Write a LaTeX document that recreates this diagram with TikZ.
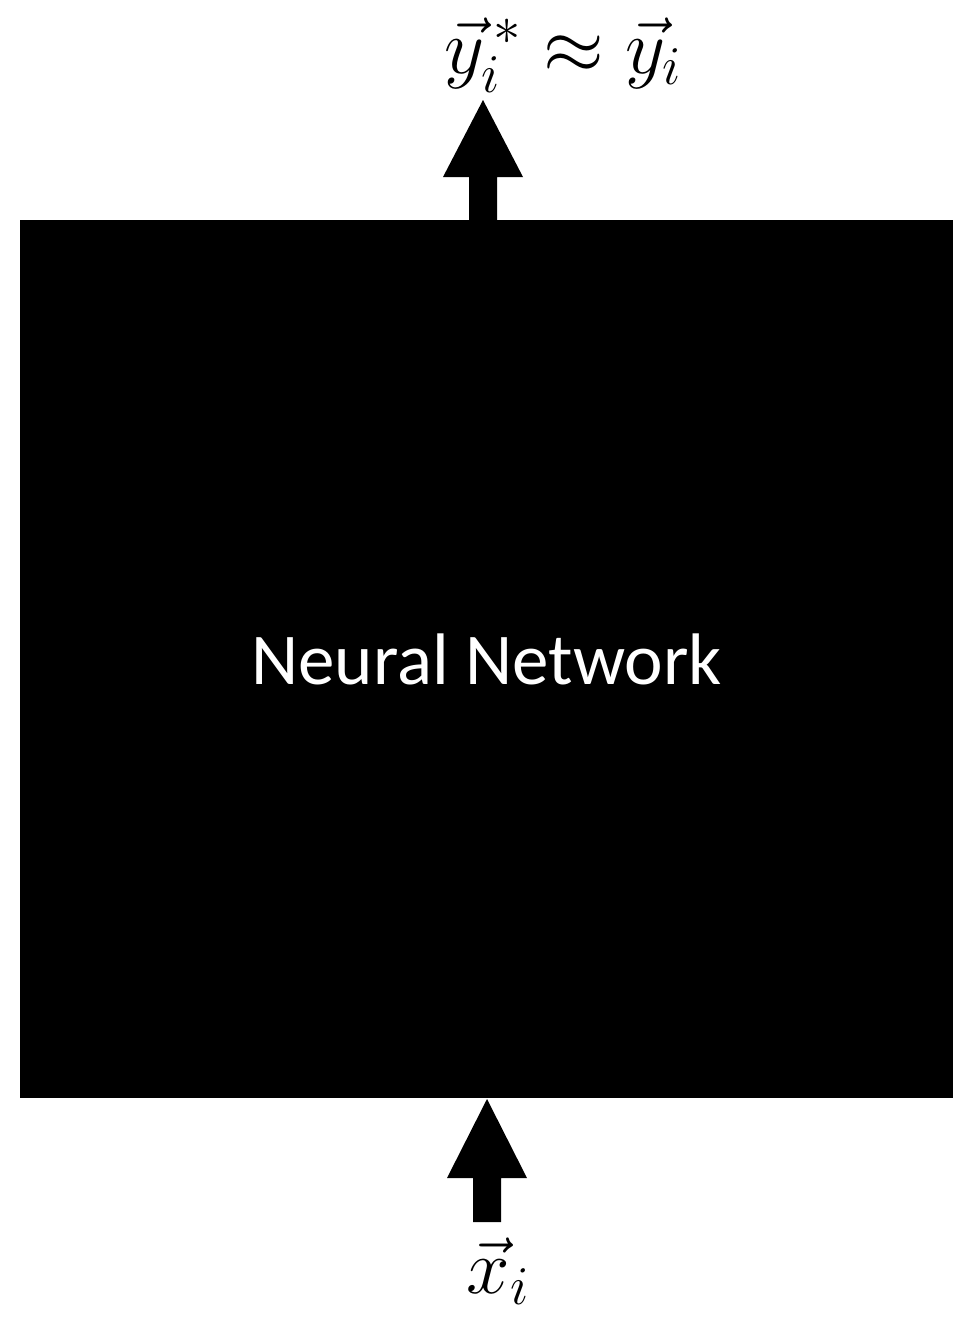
\documentclass[tikz,border=0pt]{standalone}
\usepackage{fix-cm}
\usepackage{amsmath}
\usepackage{fontspec}
\setmainfont{Carlito}
\begin{document}
\begin{tikzpicture}[x=1pt,y=-1pt,
  box/.style={fill=black,draw=none,minimum width=933pt,minimum height=878pt,inner sep=0pt,
    text=white,font=\fontsize{73}{80}\selectfont},
  blockarrow/.style={fill=black,draw=none},
  mathlabel/.style={inner sep=0pt,anchor=base,font=\fontsize{78}{86}\selectfont}]
\useasboundingbox (0,0) rectangle (966,1317);
\node[box] (nn) at (486.5,659) {Neural Network};
% top arrow
\coordinate (ttip) at (483,100);
\fill[blockarrow] (ttip) -- (523,177) -- (497,177) -- (497,220) -- (469,220) -- (469,177) -- (443,177) -- cycle;
% bottom arrow
\coordinate (btip) at (487,1099);
\fill[blockarrow] (btip) -- (527,1178) -- (501,1178) -- (501,1222) -- (473,1222) -- (473,1178) -- (447,1178) -- cycle;
\node[mathlabel] (ylab) at (563,73) {$\vec{y}_i^{\,*}\approx\vec{y}_i$};
\node[mathlabel] (xlab) at (498,1293) {$\vec{x}_i$};
\end{tikzpicture}
\end{document}
